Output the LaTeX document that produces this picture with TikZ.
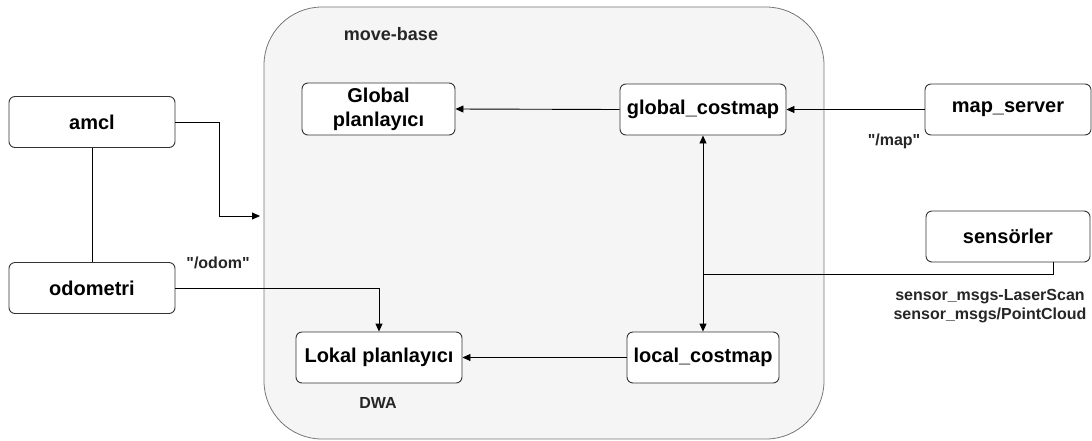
\documentclass[tikz,border=0pt]{standalone}
\usepackage{fontspec}
\setmainfont{Liberation Sans}[Ligatures=TeXOff]
\usetikzlibrary{arrows.meta}
\definecolor{panelfill}{HTML}{F5F5F5}
\definecolor{panelline}{HTML}{777777}
\definecolor{boxline}{HTML}{333333}
\tikzset{
  unit/.style={rectangle, rounded corners=6pt, draw=boxline, line width=0.9pt,
    fill=white, minimum height=51pt, align=center, inner sep=2pt,
    font=\fontsize{20}{24}\selectfont\bfseries},
  lbl/.style={font=\fontsize{16}{19}\selectfont\bfseries, text=black!85, inner sep=0pt, align=center},
  wire/.style={draw=black, line width=0.9pt},
  arr/.style={wire, -{Triangle[length=8pt,width=7pt]}},
  darr/.style={wire, {Triangle[length=8pt,width=7pt]}-{Triangle[length=8pt,width=7pt]}}
}
\begin{document}
\begin{tikzpicture}[x=1pt,y=-1pt]
\useasboundingbox (0,0) rectangle (1092,440);
% move-base container
\draw[fill=panelfill, draw=panelline, line width=0.8pt, rounded corners=58pt]
  (264,7) rectangle (824,439);
\node[lbl, font=\fontsize{18}{21}\selectfont\bfseries] (mb) at (391,34) {move-base};

% nodes
\node[unit, minimum width=166pt] (amcl) at (92,122) {amcl};
\node[unit, minimum width=166pt] (odom) at (92,288) {odometri};
\node[unit, minimum width=153pt, minimum height=52pt] (gp) at (378.5,109) {Global\\planlayıcı};
\node[unit, minimum width=166pt] (gc) at (703,109.5) {global\_costmap};
\node[unit, minimum width=166pt] (ms) at (1008,109.5) {map\_server};
\node[unit, minimum width=164pt] (sn) at (1008,236.5) {sensörler};
\node[unit, minimum width=166pt] (lp) at (379,357.5) {Lokal planlayıcı};
\node[unit, minimum width=152pt] (lc) at (703,357.5) {local\_costmap};

% labels
\node[lbl] (lmap) at (894,141) {"/map"};
\node[lbl] (lodom) at (218,263) {"/odom"};
\node[lbl] (ldwa) at (378,403) {DWA};
\node[lbl] (lsens) at (990,306.5) {sensor\_msgs-LaserScan\\sensor\_msgs/PointCloud};

% helper points
\coordinate (amclend) at (260,216);
\coordinate (sjoin) at (703,274);

% connectors
\draw[wire] (amcl.south) -- (odom.north);
\draw[arr] (amcl.east) -- (219,122) |- (amclend);
\draw[arr] (odom.east) -| (lp.north);
\draw[arr] (gc.west) -- (gp.east);
\draw[arr] (ms.west) -- (gc.east);
\draw[arr] (lc.west) -- (lp.east);
\draw[darr] (gc.south) -- (lc.north);
\draw[wire] (sn.south -| 1053,0) -- (1053,274) -- (sjoin);
\end{tikzpicture}
\end{document}
